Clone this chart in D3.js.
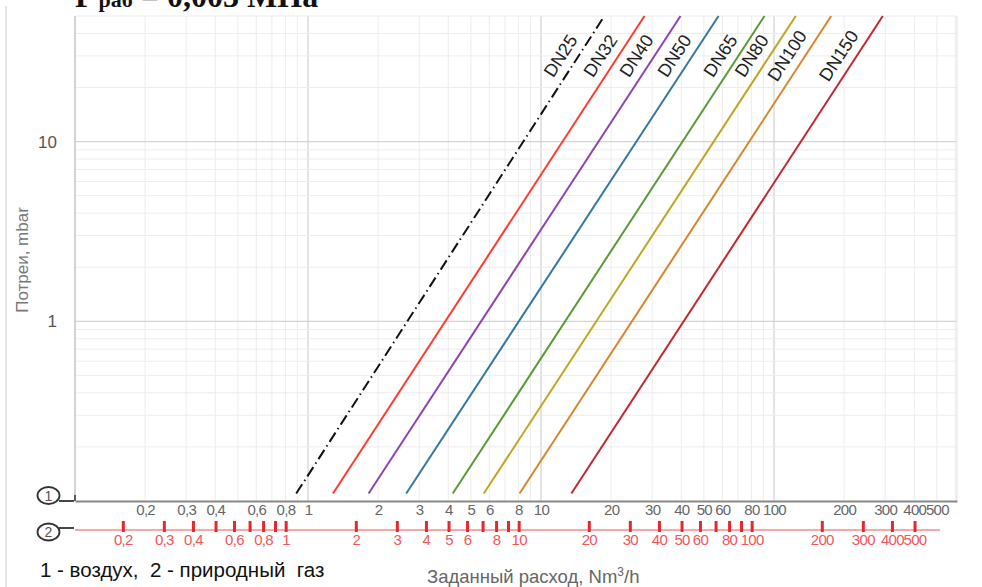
<!DOCTYPE html>
<html>
<head>
<meta charset="utf-8">
<script src="https://cdn.jsdelivr.net/npm/d3@7"></script>
<style>
  html, body { margin: 0; padding: 0; background: #fff; }
  svg { display: block; font-family: "Liberation Sans", Arial, sans-serif; }
</style>
</head>
<body>
<div id="chart"></div>
<script>
// === Pressure loss chart (log-log) ===

const W = 982, H = 587;
const PLOT = { left: 75, top: 16, bottom: 501, decade: 233 };

// Series: air flow at start/end of each straight line (Nm3/h), pressure in mbar
const dnNames = ['DN25', 'DN32', 'DN40', 'DN50', 'DN65', 'DN80', 'DN100', 'DN150'];
const dnColors = ['#111111', '#ff3b30', '#8e44b0', '#35789f', '#5a9a35', '#bfa622', '#d8852a', '#c1272d'];
const qStart = [0.89, 1.28, 1.82, 2.64, 4.18, 5.68, 8.09, 13.5];
const qEnd = [18.7, 27.8, 39.7, 57.8, 91, 124, 176, 293];
const pStart = 0.11;
const pEnd = 50;

// Axis ticks
const xLabels = [0.2, 0.3, 0.4, 0.6, 0.8, 1, 2, 3, 4, 5, 6, 8, 10, 20, 30, 40, 50, 60, 80, 100, 200, 300, 400, 500];
const gasTicks = [0.2, 0.3, 0.4, 0.5, 0.6, 0.7, 0.8, 0.9, 1, 2, 3, 4, 5, 6, 7, 8, 9, 10,
  20, 30, 40, 50, 60, 70, 80, 90, 100, 200, 300, 400, 500];
const yLabels = [1, 10];
const GAS_FACTOR = 1.247; // natural gas flow = air flow * factor
const LABEL_P = 27;       // pressure where DN labels sit

const xMin = 0.1, xMax = 610;
const x = d3.scaleLog().domain([xMin, xMax])
  .range([PLOT.left, PLOT.left + PLOT.decade * Math.log10(xMax / xMin)]);
const xGas = d3.scaleLog().domain([xMin * GAS_FACTOR, xMax * GAS_FACTOR]).range(x.range());
const y = d3.scaleLog().domain([0.1, 50]).range([PLOT.bottom, PLOT.top]);

const fmt = d => String(d).replace('.', ',');

const svg = d3.select('#chart').append('svg').attr('width', W).attr('height', H);

// outer frame line on the left
svg.append('line').attr('x1', 6).attr('x2', 6).attr('y1', 6).attr('y2', H)
  .attr('stroke', '#dcdcdc').attr('stroke-width', 1.5);

// Title (cut off at the top in the original)
const title = svg.append('text').attr('x', 75).attr('y', 7)
  .attr('font-family', '"Liberation Serif", "Times New Roman", serif')
  .attr('font-weight', 'bold').attr('font-size', 32).attr('fill', '#111');
title.append('tspan').text('P');
title.append('tspan').attr('font-size', 22).attr('dx', 4).text('раб');
title.append('tspan').text(' = 0,003 МПа');

// Grid
const [x0, x1] = x.range();
const gridX = [];
for (let e = -1; e <= 2; e++) for (let k = 1; k <= 9; k++) {
  const v = k * Math.pow(10, e);
  if (v > xMin && v <= xMax) gridX.push(v);
}
const gridY = [];
for (let e = -1; e <= 1; e++) for (let k = 1; k <= 9; k++) {
  const v = k * Math.pow(10, e);
  if (v > 0.1 && v <= 50) gridY.push(v);
}
const isMajor = v => Math.abs(Math.log10(v) - Math.round(Math.log10(v))) < 1e-9;

const grid = svg.append('g').attr('class', 'grid');
grid.selectAll('line.gx').data(gridX).join('line').attr('class', 'gx')
  .attr('x1', d => x(d)).attr('x2', d => x(d))
  .attr('y1', PLOT.top).attr('y2', PLOT.bottom)
  .attr('stroke', d => isMajor(d) ? '#d4d4d4' : '#ececec')
  .attr('stroke-width', d => isMajor(d) ? 1.3 : 1);
grid.selectAll('line.gy').data(gridY).join('line').attr('class', 'gy')
  .attr('x1', x0).attr('x2', x1)
  .attr('y1', d => y(d)).attr('y2', d => y(d))
  .attr('stroke', d => isMajor(d) ? '#d4d4d4' : '#ececec')
  .attr('stroke-width', d => isMajor(d) ? 1.3 : 1);

// right edge + left axis
svg.append('line').attr('x1', x1).attr('x2', x1).attr('y1', PLOT.top).attr('y2', PLOT.bottom)
  .attr('stroke', '#e2e2e2');
svg.append('line').attr('x1', x0).attr('x2', x0).attr('y1', PLOT.top).attr('y2', PLOT.bottom)
  .attr('stroke', '#c4c4c4').attr('stroke-width', 1.5);

// Y axis labels
const yAxis = svg.append('g').attr('transform', `translate(${x0},0)`)
  .call(d3.axisLeft(y).tickValues(yLabels).tickFormat(d => d).tickSize(0).tickPadding(18));
yAxis.select('.domain').remove();
yAxis.selectAll('text').attr('font-size', 17).attr('fill', '#555')
  .attr('font-family', '"Liberation Sans", Arial, sans-serif');

svg.append('text')
  .attr('transform', `translate(28,260) rotate(-90)`)
  .attr('text-anchor', 'middle').attr('font-size', 17).attr('fill', '#777')
  .text('Потреи, mbar');

// Lines
const line = d3.line().x(d => x(d[0])).y(d => y(d[1]));
const plot = svg.append('g');
dnNames.forEach((name, i) => {
  const pts = [[qStart[i], pStart], [qEnd[i], pEnd]];
  plot.append('path')
    .attr('d', line(pts))
    .attr('fill', 'none')
    .attr('stroke', dnColors[i])
    .attr('stroke-width', 2)
    .attr('stroke-dasharray', i === 0 ? '11,4,1.5,4' : null);

  // label along the line
  const t = Math.log(LABEL_P / pStart) / Math.log(pEnd / pStart);
  const qL = Math.exp(Math.log(qStart[i]) + t * (Math.log(qEnd[i]) - Math.log(qStart[i])));
  const ang = Math.atan2(y(pEnd) - y(pStart), x(qEnd[i]) - x(qStart[i])) * 180 / Math.PI;
  plot.append('text')
    .attr('transform', `translate(${x(qL)},${y(LABEL_P)}) rotate(${ang})`)
    .attr('y', -9)
    .attr('text-anchor', 'middle')
    .attr('font-size', 18).attr('fill', '#222')
    .text(name);
});

// Axis 1 (air)
const ax1 = svg.append('g').attr('transform', `translate(0,${PLOT.bottom})`)
  .call(d3.axisBottom(x).tickValues(xLabels).tickFormat(fmt).tickSize(0).tickSizeOuter(0).tickPadding(3));
ax1.select('.domain').attr('stroke', '#888').attr('stroke-width', 2);
ax1.selectAll('text').attr('font-size', 15).attr('fill', '#666').attr('letter-spacing', -0.7)
  .attr('font-family', '"Liberation Sans", Arial, sans-serif');

// Axis 2 (natural gas)
const redLineY = 530;
svg.append('line').attr('x1', x0).attr('x2', x1 - 17).attr('y1', redLineY).attr('y2', redLineY)
  .attr('stroke', '#f28c8c').attr('stroke-width', 1.6);
const ax2t = svg.append('g').attr('transform', `translate(0,${redLineY + 2})`)
  .call(d3.axisBottom(xGas).tickValues(gasTicks).tickFormat('').tickSize(-11).tickSizeOuter(0));
ax2t.select('.domain').remove();
ax2t.selectAll('.tick line').attr('stroke', '#e8262c').attr('stroke-width', 3);
const ax2 = svg.append('g').attr('transform', `translate(0,${redLineY})`)
  .call(d3.axisBottom(xGas).tickValues(xLabels).tickFormat(fmt).tickSize(0).tickSizeOuter(0).tickPadding(4));
ax2.select('.domain').remove();
ax2.selectAll('text').attr('font-size', 15).attr('fill', '#f0565c').attr('letter-spacing', -0.7)
  .attr('font-family', '"Liberation Sans", Arial, sans-serif');

// Axis markers (1) and (2)
const markers = [
  { label: '1', cy: 495.5, ly: PLOT.bottom },
  { label: '2', cy: 532, ly: 528 }
];
markers.forEach(m => {
  svg.append('line').attr('x1', 59).attr('x2', x0 - 1).attr('y1', m.ly).attr('y2', m.ly)
    .attr('stroke', '#333').attr('stroke-width', 1.8);
  svg.append('ellipse').attr('cx', 48.5).attr('cy', m.cy).attr('rx', 11).attr('ry', 8.5)
    .attr('fill', '#fff').attr('stroke', '#333').attr('stroke-width', 1.8);
  svg.append('text').attr('x', 48.5).attr('y', m.cy + 5).attr('text-anchor', 'middle')
    .attr('font-size', 14).attr('fill', '#555').text(m.label);
});
svg.append('line').attr('x1', x0).attr('x2', x0).attr('y1', 495).attr('y2', PLOT.bottom)
  .attr('stroke', '#333').attr('stroke-width', 1.5);

// Legend + x title
svg.append('text').attr('x', 40).attr('y', 577).attr('font-size', 20.5).attr('fill', '#111')
  .attr('xml:space', 'preserve')
  .text('1 - воздух,  2 - природный  газ');
const xt = svg.append('text').attr('x', 427).attr('y', 583).attr('font-size', 18.5).attr('fill', '#666');
xt.append('tspan').text('Заданный расход, Nm');
xt.append('tspan').attr('font-size', 12).attr('dy', -7).text('3');
xt.append('tspan').attr('dy', 7).text('/h');
</script>
</body>
</html>
